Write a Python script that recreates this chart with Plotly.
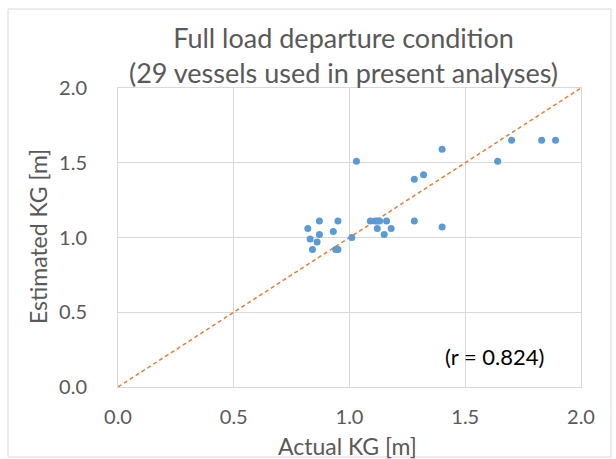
import plotly.graph_objects as go

actual_kg = [1.03, 1.40, 1.28, 1.32,
             0.82, 0.87, 0.95, 0.93, 0.87, 0.83, 0.86, 0.84, 0.94, 0.95,
             1.01,
             1.09, 1.11, 1.12, 1.13, 1.16, 1.12, 1.18, 1.15,
             1.28, 1.40,
             1.64, 1.70, 1.83, 1.89]
estimated_kg = [1.51, 1.59, 1.39, 1.42,
                1.06, 1.11, 1.11, 1.04, 1.02, 0.99, 0.97, 0.92, 0.92, 0.92,
                1.00,
                1.11, 1.11, 1.11, 1.11, 1.11, 1.06, 1.06, 1.02,
                1.11, 1.07,
                1.51, 1.65, 1.65, 1.65]
diag_x = [0.0, 2.0]
diag_y = [0.0, 2.0]
tick_vals = [0.0, 0.5, 1.0, 1.5, 2.0]
tick_text = ["0.0", "0.5", "1.0", "1.5", "2.0"]

FONT = "Lato, 'Open Sans', sans-serif"
GRAY = "#595959"

fig = go.Figure()
fig.add_trace(go.Scatter(x=diag_x, y=diag_y, mode="lines",
                         line=dict(color="#ED7D31", width=1.5, dash="4px,3px"),
                         showlegend=False, hoverinfo="skip", cliponaxis=False))
fig.add_trace(go.Scatter(x=actual_kg, y=estimated_kg, mode="markers",
                         marker=dict(color="#5B9BD5", size=7,
                                     line=dict(width=0)),
                         showlegend=False))

L, R, T, B = 118, 35, 88, 72
W, H = 616, 459
pw, ph = W - L - R, H - T - B

def px_x(p):
    return (p - L) / pw

def px_y(p):
    return (H - B - p) / ph

fig.add_shape(type="rect", xref="paper", yref="paper",
              x0=px_x(8), x1=px_x(611), y0=px_y(457), y1=px_y(9),
              line=dict(color="#D9D9D9", width=1), layer="below")

axis_common = dict(range=[0, 2], tickvals=tick_vals, ticktext=tick_text,
                   showgrid=True, gridcolor="#D9D9D9", gridwidth=1,
                   zeroline=False, showline=True, linecolor="#D9D9D9",
                   mirror=True, ticks="", automargin=False,
                   tickfont=dict(family=FONT, size=20, color=GRAY))

fig.update_xaxes(**axis_common, ticklabelstandoff=12)
fig.update_yaxes(**axis_common, ticklabelstandoff=26)

fig.update_layout(
    width=W, height=H,
    margin=dict(l=L, r=R, t=T, b=B),
    paper_bgcolor="white", plot_bgcolor="white",
    title=dict(text="Full load departure condition<br>(29 vessels used in present analyses)",
               x=343.5 / W, xanchor="center",
               y=1 - 48 / H, yanchor="middle",
               font=dict(family=FONT, size=27, color=GRAY)),
    annotations=[
        dict(text="(r = 0.824)", xref="paper", yref="paper",
             x=px_x(494), y=px_y(356), xanchor="center",
             yanchor="middle", showarrow=False,
             font=dict(family=FONT, size=22, color="black")),
        dict(text="Actual KG [m]", xref="paper", yref="paper",
             x=px_x(347), y=px_y(446), xanchor="center",
             yanchor="middle", showarrow=False,
             font=dict(family=FONT, size=23, color=GRAY)),
        dict(text="Estimated KG [m]", xref="paper", yref="paper",
             x=px_x(38), y=px_y(237), xanchor="center",
             yanchor="middle", showarrow=False, textangle=-90,
             font=dict(family=FONT, size=23, color=GRAY)),
    ],
)

fig.write_html("out.html")
